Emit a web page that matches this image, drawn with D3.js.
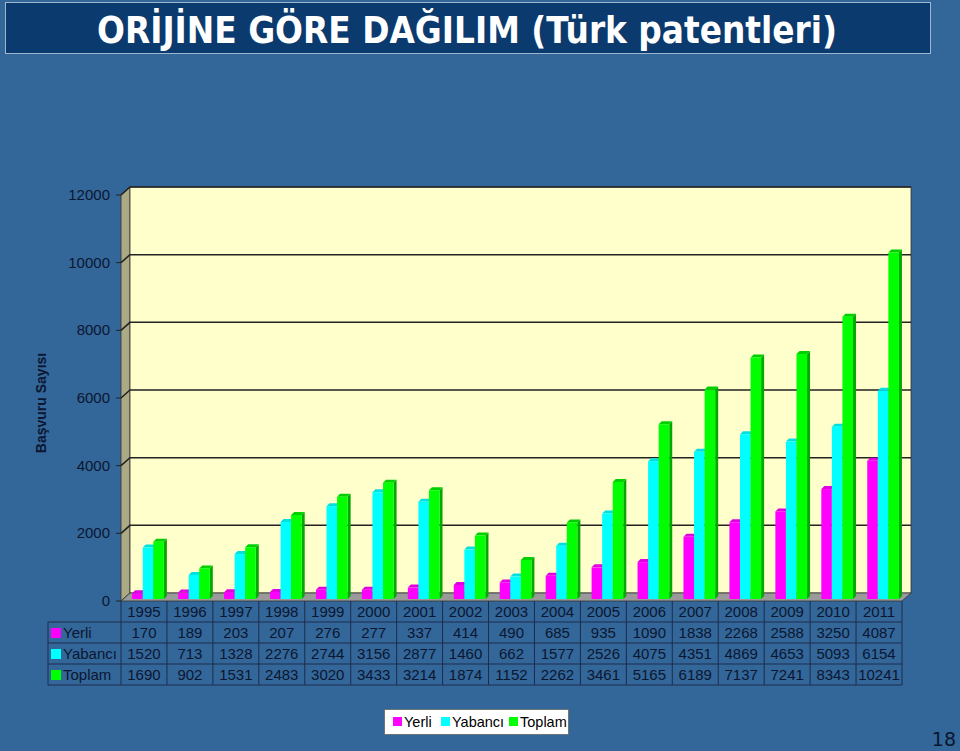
<!DOCTYPE html>
<html>
<head>
<meta charset="utf-8">
<script src="https://cdn.jsdelivr.net/npm/d3@7"></script>
<style>
  body { margin: 0; background: #336699; }
  svg { display: block; }
</style>
</head>
<body>
<div class="chart"></div>
<script>
const years = ['1995', '1996', '1997', '1998', '1999', '2000', '2001', '2002', '2003',
  '2004', '2005', '2006', '2007', '2008', '2009', '2010', '2011'];
const yerli = [170, 189, 203, 207, 276, 277, 337, 414, 490, 685, 935, 1090, 1838, 2268, 2588, 3250, 4087];
const yabanci = [1520, 713, 1328, 2276, 2744, 3156, 2877, 1460, 662, 1577, 2526, 4075, 4351, 4869, 4653, 5093, 6154];
const toplam = [1690, 902, 1531, 2483, 3020, 3433, 3214, 1874, 1152, 2262, 3461, 5165, 6189, 7137, 7241, 8343, 10241];
const seriesNames = ['Yerli', 'Yabancı', 'Toplam'];
const yTicks = [0, 2000, 4000, 6000, 8000, 10000, 12000];

const series = [
  { name: seriesNames[0], values: yerli, front: '#ff00ff', side: '#b000b0', top: '#e000e0' },
  { name: seriesNames[1], values: yabanci, front: '#00ffff', side: '#00b0b0', top: '#00e0e0' },
  { name: seriesNames[2], values: toplam, front: '#00ff00', side: '#00a800', top: '#00d000' }
];

const W = 960, H = 751;
const textCol = '#0b1630';
const font = '"Liberation Sans", Arial, sans-serif';

const svg = d3.select('.chart').append('svg')
  .attr('width', W).attr('height', H);

// title box
svg.append('rect')
  .attr('x', 5.5).attr('y', 2.5).attr('width', 925).attr('height', 51)
  .attr('fill', '#0b3a6e').attr('stroke', '#9fb6cf').attr('stroke-width', 1);
svg.append('text')
  .attr('x', 467).attr('y', 43)
  .attr('text-anchor', 'middle')
  .attr('textLength', 740).attr('lengthAdjust', 'spacingAndGlyphs')
  .style('font-family', '"DejaVu Sans", "Liberation Sans", sans-serif')
  .style('font-weight', '700').style('font-size', '38px')
  .attr('fill', '#ffffff')
  .text('ORİJİNE GÖRE DAĞILIM (Türk patentleri)');

// 3d geometry
const pLeft = 121, pRight = 902, pBottom = 601, pTop = 195;
const dx = 9, dy = -8;

const x = d3.scaleBand().domain(years).range([pLeft, pRight]);
const y = d3.scaleLinear().domain([0, 12000]).range([pBottom, pTop]);
const catW = x.bandwidth();
const x1 = d3.scaleBand().domain(seriesNames)
  .range([catW * 0.2, catW * 0.2 + catW * 0.69]);

const plot = svg.append('g');

// left wall
plot.append('polygon')
  .attr('points', [[pLeft, pBottom], [pLeft, pTop], [pLeft + dx, pTop + dy], [pLeft + dx, pBottom + dy]].join(' '))
  .attr('fill', '#aca985').attr('stroke', '#333').attr('stroke-width', 0.8);

// back wall
plot.append('rect')
  .attr('x', pLeft + dx).attr('y', pTop + dy)
  .attr('width', pRight - pLeft).attr('height', pBottom - pTop)
  .attr('fill', '#ffffcc').attr('stroke', '#333').attr('stroke-width', 0.8);

// floor
plot.append('polygon')
  .attr('points', [[pLeft, pBottom], [pRight, pBottom], [pRight + dx, pBottom + dy], [pLeft + dx, pBottom + dy]].join(' '))
  .attr('fill', '#9a9a9a').attr('stroke', '#333').attr('stroke-width', 0.8);

// gridlines
plot.selectAll('.grid').data(yTicks.filter(d => d > 0)).enter().append('polyline')
  .attr('class', 'grid')
  .attr('points', d => [[pLeft, y(d)], [pLeft + dx, y(d) + dy], [pRight + dx, y(d) + dy]].join(' '))
  .attr('fill', 'none').attr('stroke', '#222').attr('stroke-width', 1.5);

// axis ticks and labels
plot.selectAll('.tick').data(yTicks).enter().append('line')
  .attr('x1', pLeft - 5).attr('x2', pLeft)
  .attr('y1', d => y(d)).attr('y2', d => y(d))
  .attr('stroke', '#222');
plot.selectAll('.tlab').data(yTicks).enter().append('text')
  .attr('x', 110).attr('y', d => y(d) + 5)
  .attr('text-anchor', 'end')
  .style('font-family', font).style('font-size', '15px')
  .attr('fill', textCol)
  .text(d => d);

svg.append('text')
  .attr('transform', 'translate(46,403) rotate(-90)')
  .attr('text-anchor', 'middle')
  .style('font-family', font).style('font-size', '14px').style('font-weight', '700')
  .attr('fill', textCol)
  .text('Başvuru Sayısı');

// bars
const sx = 2, sy = -2;   // front face offset into depth
const bd = 3;            // bar depth
const bw = x1.bandwidth();

years.forEach((yr, i) => {
  series.forEach(s => {
    const v = s.values[i];
    const x0 = x(yr) + x1(s.name) + sx;
    const yb = pBottom + sy;
    const yt = y(v) + sy;
    const g = plot.append('g');
    // side
    g.append('polygon')
      .attr('points', [[x0 + bw, yb], [x0 + bw, yt], [x0 + bw + bd, yt - bd], [x0 + bw + bd, yb - bd]].join(' '))
      .attr('fill', s.side);
    // top
    g.append('polygon')
      .attr('points', [[x0, yt], [x0 + bw, yt], [x0 + bw + bd, yt - bd], [x0 + bd, yt - bd]].join(' '))
      .attr('fill', s.top);
    // front
    g.append('rect')
      .attr('x', x0).attr('y', yt).attr('width', bw).attr('height', yb - yt)
      .attr('fill', s.front);
  });
});

// data table
const rowH = 21;
const tableTop = pBottom;
const headLeft = 48;
const tbl = svg.append('g');
const lineCol = '#1c2c4c';

// year row
tbl.selectAll('.yr').data(years).enter().append('text')
  .attr('x', d => x(d) + catW / 2).attr('y', tableTop + 16)
  .attr('text-anchor', 'middle')
  .style('font-family', font).style('font-size', '15px')
  .attr('fill', textCol)
  .text(d => d);

series.forEach((s, r) => {
  const ry = tableTop + rowH * (r + 1);
  tbl.append('rect')
    .attr('x', headLeft + 3).attr('y', ry + 6).attr('width', 10).attr('height', 10)
    .attr('fill', s.front);
  tbl.append('text')
    .attr('x', headLeft + 15).attr('y', ry + 16)
    .style('font-family', font).style('font-size', '15px')
    .attr('fill', textCol)
    .text(s.name);
  tbl.selectAll('.v' + r).data(s.values).enter().append('text')
    .attr('x', (d, i) => x(years[i]) + catW / 2).attr('y', ry + 16)
    .attr('text-anchor', 'middle')
    .style('font-family', font).style('font-size', '15px')
    .attr('fill', textCol)
    .text(d => d);
});

// table grid lines
const tableBottom = tableTop + rowH * 4;
for (let r = 1; r <= 4; r++) {
  tbl.append('line')
    .attr('x1', headLeft).attr('x2', pRight)
    .attr('y1', tableTop + rowH * r).attr('y2', tableTop + rowH * r)
    .attr('stroke', lineCol);
}
tbl.append('line').attr('x1', headLeft).attr('x2', headLeft)
  .attr('y1', tableTop + rowH).attr('y2', tableBottom).attr('stroke', lineCol);
years.concat(['end']).forEach((d, i) => {
  const xx = i < years.length ? x(d) : pRight;
  tbl.append('line').attr('x1', xx).attr('x2', xx)
    .attr('y1', tableTop).attr('y2', tableBottom).attr('stroke', lineCol);
});

// legend
const leg = svg.append('g');
leg.append('rect')
  .attr('x', 384.5).attr('y', 709.5).attr('width', 184).attr('height', 25)
  .attr('fill', '#ffffff').attr('stroke', '#666').attr('stroke-width', 0.8);
const legX = [393, 441, 509];
series.forEach((s, i) => {
  leg.append('rect')
    .attr('x', legX[i]).attr('y', 717).attr('width', 9).attr('height', 9)
    .attr('fill', s.front);
  leg.append('text')
    .attr('x', legX[i] + 11).attr('y', 727)
    .style('font-family', font).style('font-size', '14.5px')
    .attr('fill', '#000')
    .text(s.name);
});

// page number
svg.append('text')
  .attr('x', 956).attr('y', 746)
  .attr('text-anchor', 'end')
  .style('font-family', '"DejaVu Sans", sans-serif').style('font-size', '19px')
  .attr('fill', textCol)
  .text('18');
</script>
</body>
</html>
